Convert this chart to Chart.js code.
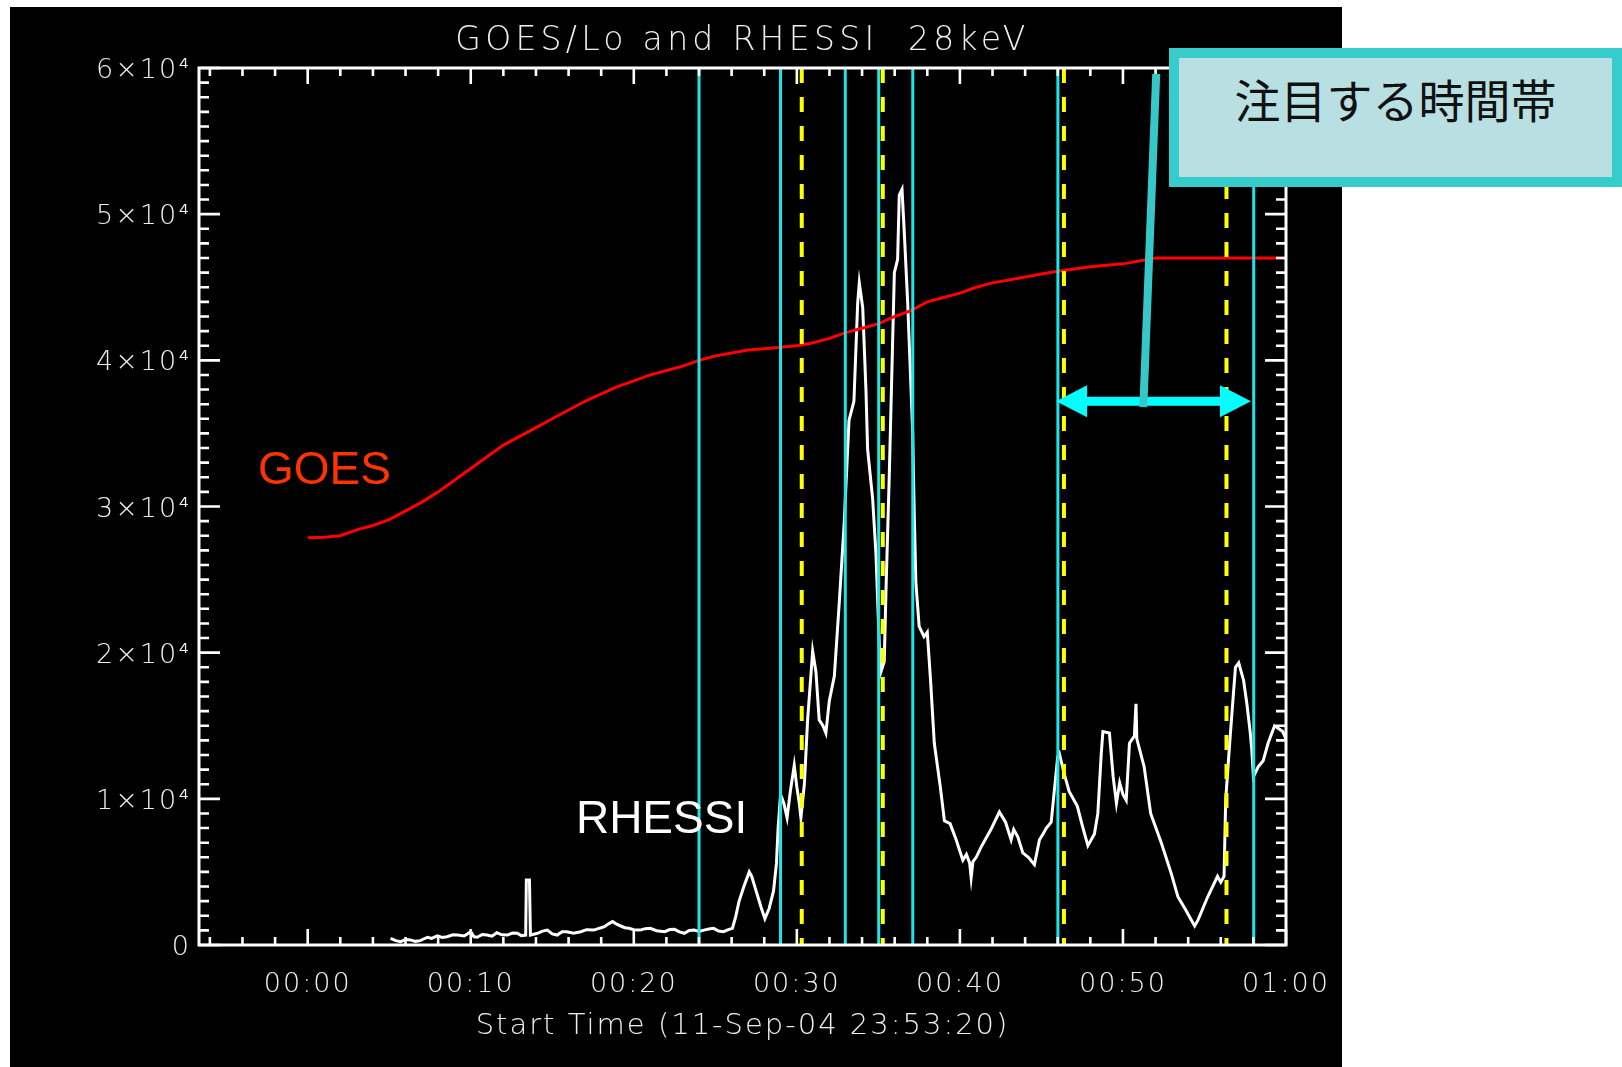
<!DOCTYPE html>
<html>
<head>
<meta charset="utf-8">
<title>GOES/Lo and RHESSI 28keV</title>
<script src="https://cdn.jsdelivr.net/npm/chart.js@4.4.1/dist/chart.umd.min.js"></script>
<style>
  html, body { margin: 0; padding: 0; background: #fff; }
  #wrap { position: relative; width: 1622px; height: 1067px; overflow: hidden; }
  #chart { position: absolute; left: 0; top: 0; }
  .callout {
    position: absolute; left: 1169px; top: 48px; width: 453px; height: 139px;
    box-sizing: border-box; border: 10px solid #36cccc; background: #b8e0e2;
  }
  .callout span {
    position: absolute; left: 0; right: 0; top: 17px; text-align: center;
    font-family: "Noto Sans CJK JP"; font-size: 46px; line-height: 1; color: #111;
  }
</style>
</head>
<body>
<div id="wrap">
  <canvas id="chart" width="1622" height="1067"></canvas>
  <div class="callout"><span>注目する時間帯</span></div>
</div>
<script>
// time in minutes after 00:00 (plot starts 23:53:20)
const rhessiTime = [
  5.08, 5.4, 5.7, 6.0, 6.3, 6.6, 6.9, 7.35, 7.6, 7.95, 8.25, 8.55, 8.9, 9.2, 9.6, 10.0, 10.2,
  10.4, 10.7, 11.0, 11.3, 11.6, 11.9, 12.25, 12.55, 12.85, 13.1, 13.37, 13.41, 13.6, 13.66,
  14.1, 14.4, 14.7, 15.0, 15.3, 15.6, 15.9, 16.3, 16.75, 17.1, 17.55, 17.9, 18.2, 18.45, 18.7,
  18.95, 19.2, 19.45, 19.7, 20.0, 20.4, 20.7, 21.0, 21.4, 21.9, 22.2, 22.5, 22.8, 23.1, 23.4,
  23.7, 24.0, 24.3, 24.6, 24.9, 25.2, 25.5, 25.8, 26.05, 26.25, 26.45, 26.75, 27.08,
  27.23, 27.5, 27.8, 28.04, 28.3, 28.57, 28.75, 28.85, 29.0, 29.2, 29.4, 29.6, 29.84, 30.0,
  30.15, 30.25, 30.46, 30.66, 30.97, 31.17, 31.37, 31.6, 31.78, 31.99, 32.3, 32.6, 32.9,
  33.2, 33.5, 33.73, 33.83, 34.04, 34.24, 34.34, 34.65, 34.85, 35.06, 35.16, 35.36, 35.47,
  35.67, 35.98, 36.18, 36.28, 36.45, 36.6, 36.8, 37.1, 37.2, 37.3, 37.5, 37.8, 38.0, 38.2,
  38.43, 38.8, 39.05, 39.4, 39.77, 40.18, 40.4, 40.6, 40.69, 40.8, 41.0, 41.3, 41.6, 41.9,
  42.42, 42.8, 43.14, 43.3, 43.55, 43.86, 44.2, 44.57, 44.88, 45.1, 45.3, 45.6, 46.0, 46.1,
  46.4, 46.7, 47.2, 47.5, 47.85, 48.25, 48.46, 48.67, 48.77, 49.17, 49.4, 49.6, 49.8, 50.0,
  50.2, 50.4, 50.7, 50.8, 50.85, 51.3, 51.7, 52.35, 52.96, 53.37, 53.8, 54.2, 54.4, 54.6,
  55.2, 55.8, 56.0, 56.2, 56.3, 56.5, 56.7, 56.9, 57.1, 57.4, 57.6, 57.8, 57.9, 58.0, 58.3,
  58.6, 58.9, 59.3, 59.8, 60.0
];
const rhessiCounts = [
  460, 300, 230, 380, 350, 250, 300, 530, 450, 620, 520, 570, 700, 680, 620, 910, 560,
  530, 720, 680, 600, 840, 700, 680, 820, 800, 640, 680, 4450, 4450, 680,
  800, 950, 1020, 760, 680, 900, 910, 800, 910, 1050, 1020, 1150, 1250, 1450, 1600,
  1420, 1300, 1180, 1140, 1050, 1020, 1120, 1140, 980, 910, 1060, 1070, 900, 800, 1000,
  1020, 930, 1020, 1100, 1140, 960, 910, 1050, 1140, 1940, 2970, 4000, 5000,
  4700, 3700, 2600, 1800, 2500, 3700, 5600, 8000, 10300, 9700, 8700, 10500, 12300, 10800,
  9700, 8700, 11000, 15400, 20100, 18700, 15400, 15000, 14500, 16700, 18400, 23400, 28800,
  35900, 37200, 43900, 45300, 43600, 37900, 33900, 30500, 26800, 20400, 18700, 19400, 24400,
  32200, 46000, 46900, 51300, 51700, 48500, 43900, 35200, 29500, 24800, 21800, 21100, 21400, 18100,
  13800, 10800, 8500, 8300, 7200, 5800, 6200, 5600, 4600, 5700, 6000, 6700, 7300, 7900,
  9100, 8400, 7200, 7900, 7400, 6300, 6000, 5500, 7200, 7600, 8000, 8400, 12900, 13100,
  11700, 10500, 9500, 8200, 6800, 7600, 9000, 13100, 14600, 14500, 11500, 9700, 11100, 10300,
  9900, 13800, 14300, 16500, 14100, 12200, 9000, 7000, 4900, 3300, 2500, 1700, 1300, 1700,
  3300, 4700, 4300, 4700, 9900, 13100, 16100, 19000, 19300, 18100, 16500, 14600, 13400, 11500, 12200,
  12600, 13800, 15000, 14600, 14100
];
const goesTime = [
  0, 1, 2, 3, 4, 5, 6, 7, 8, 9, 10, 11, 12, 13, 14, 15, 16, 17, 18, 19, 20, 21, 22, 23, 24,
  25, 26, 27, 28, 29, 30, 31, 32, 33, 34, 35, 36, 37, 38, 39, 40, 41, 42, 43, 44, 45, 46,
  47, 48, 49, 50, 51, 52, 60
];
const goesFlux = [
  27860, 27900, 28000, 28400, 28700, 29100, 29700, 30300, 31000, 31800, 32600, 33400, 34200,
  34800, 35400, 36000, 36600, 37200, 37700, 38200, 38600, 39000, 39300, 39600, 40000,
  40300, 40500, 40700, 40800, 40900, 41000, 41200, 41500, 41900, 42200, 42500, 43000, 43400,
  44000, 44300, 44600, 45000, 45300, 45500, 45700, 45900, 46100, 46250, 46400, 46500, 46600,
  46800, 47000, 47000
];
const cyanMarks = [24.0, 29.0, 32.97, 35.02, 37.11, 46.01, 58.02];
const yellowMarks = [30.3, 35.27, 46.38, 56.35];

const xMajorTicks = [0, 10, 20, 30, 40, 50, 60];
const xTickLabels = ['00:00', '00:10', '00:20', '00:30', '00:40', '00:50', '01:00'];
const yMajorTicks = [0, 10000, 20000, 30000, 40000, 50000, 60000];
const yTickLabels = ['0', '1×10⁴', '2×10⁴', '3×10⁴', '4×10⁴', '5×10⁴', '6×10⁴'];

// annotation anchors (data coordinates)
const goesLabelAt = [-3.05, 32400];
const rhessiLabelAt = [16.45, 8550];
const arrowSpan = [45.9, 57.85];
const arrowLevel = 37200;
const pointerFrom = [52.04, 59600];
const pointerTo = [51.25, 36800];

const labelFont = { family: 'DejaVu Sans', size: 27, weight: '200' };

function xy(ts, vs) {
  return ts.map((t, i) => ({ x: t, y: vs[i] }));
}

const datasets = [
  {
    label: 'RHESSI', data: xy(rhessiTime, rhessiCounts),
    borderColor: '#ffffff', borderWidth: 3, pointRadius: 0, order: 4
  },
  {
    label: 'GOES', data: xy(goesTime, goesFlux),
    borderColor: '#ff0000', borderWidth: 3, pointRadius: 0, order: 3
  }
];
cyanMarks.forEach(t => datasets.push({
  data: [{ x: t, y: 60000 }, { x: t, y: 0 }],
  borderColor: '#1ee4ea', borderWidth: 3, pointRadius: 0, order: 2
}));
yellowMarks.forEach(t => datasets.push({
  data: [{ x: t, y: 60000 }, { x: t, y: 0 }],
  borderColor: '#ffff00', borderWidth: 4, borderDash: [15, 14], pointRadius: 0, order: 1
}));

const panelPlugin = {
  id: 'panel',
  beforeDraw(chart) {
    const ctx = chart.ctx;
    ctx.save();
    ctx.fillStyle = '#fff';
    ctx.fillRect(0, 0, chart.width, chart.height);
    ctx.fillStyle = '#000';
    ctx.fillRect(10, 7, 1332, 1060);
    ctx.restore();
    ctx.letterSpacing = '2px';
  },
  afterLayout(chart) {
    // the IDL title font is wide: space the title letters out a bit more
    const tb = chart.titleBlock;
    if (tb && !tb._spaced) {
      const draw = tb.draw.bind(tb);
      tb.draw = (area) => {
        chart.ctx.save();
        chart.ctx.letterSpacing = '4.3px';
        draw(area);
        chart.ctx.restore();
      };
      tb._spaced = true;
    }
  }
};

const framePlugin = {
  id: 'frame',
  afterDatasetsDraw(chart) {
    const { ctx, chartArea: a, scales: { x, y } } = chart;
    ctx.save();
    ctx.strokeStyle = '#fff';
    ctx.lineWidth = 3;
    ctx.strokeRect(a.left, a.top, a.right - a.left, a.bottom - a.top);
    ctx.lineWidth = 2.6;
    ctx.beginPath();
    for (let m = -6; m <= 60; m += 2) {
      const px = x.getPixelForValue(m);
      const len = xMajorTicks.includes(m) ? 16 : 8;
      ctx.moveTo(px, a.bottom); ctx.lineTo(px, a.bottom - len);
      ctx.moveTo(px, a.top); ctx.lineTo(px, a.top + len);
    }
    for (let v = 0; v <= 60000; v += 1000) {
      const py = y.getPixelForValue(v);
      const len = yMajorTicks.includes(v) ? 21 : 10;
      ctx.moveTo(a.left, py); ctx.lineTo(a.left + len, py);
      ctx.moveTo(a.right, py); ctx.lineTo(a.right - len, py);
    }
    ctx.stroke();
    ctx.restore();
  },
  afterDraw(chart) {
    const { ctx, scales: { x, y } } = chart;
    ctx.save();
    ctx.letterSpacing = '0px';
    ctx.textBaseline = 'middle';
    ctx.textAlign = 'left';
    ctx.font = '46px "Liberation Sans"';
    ctx.fillStyle = '#ff3300';
    ctx.fillText('GOES', x.getPixelForValue(goesLabelAt[0]), y.getPixelForValue(goesLabelAt[1]));
    ctx.fillStyle = '#ffffff';
    ctx.fillText('RHESSI', x.getPixelForValue(rhessiLabelAt[0]), y.getPixelForValue(rhessiLabelAt[1]));

    // double-headed arrow
    const xl = x.getPixelForValue(arrowSpan[0]);
    const xr = x.getPixelForValue(arrowSpan[1]);
    const ya = y.getPixelForValue(arrowLevel);
    ctx.fillStyle = '#00ffff';
    ctx.fillRect(xl + 20, ya - 4.5, xr - xl - 40, 9);
    ctx.beginPath();
    ctx.moveTo(xl, ya); ctx.lineTo(xl + 31, ya - 16); ctx.lineTo(xl + 31, ya + 16); ctx.closePath();
    ctx.moveTo(xr, ya); ctx.lineTo(xr - 31, ya - 16); ctx.lineTo(xr - 31, ya + 16); ctx.closePath();
    ctx.fill();

    // callout pointer
    ctx.strokeStyle = '#36c8c8';
    ctx.lineWidth = 8;
    ctx.beginPath();
    ctx.moveTo(x.getPixelForValue(pointerFrom[0]), y.getPixelForValue(pointerFrom[1]));
    ctx.lineTo(x.getPixelForValue(pointerTo[0]), y.getPixelForValue(pointerTo[1]));
    ctx.stroke();
    ctx.restore();
  }
};

new Chart(document.getElementById('chart'), {
  type: 'line',
  data: { datasets },
  options: {
    responsive: false,
    animation: false,
    layout: { padding: { left: 0, top: 0, right: 336, bottom: 0 } },
    plugins: {
      legend: { display: false },
      tooltip: { enabled: false },
      title: {
        display: true,
        fullSize: false,
        text: 'GOES/Lo and RHESSI  28keV',
        color: '#eeeeee',
        font: { family: 'DejaVu Sans', size: 33, weight: '200' },
        padding: { top: 22, bottom: 6.4 }
      }
    },
    scales: {
      x: {
        type: 'linear',
        min: -400 / 60,
        max: 60,
        afterBuildTicks: s => { s.ticks = xMajorTicks.map(v => ({ value: v })); },
        afterFit: s => { s.height = 122; },
        grid: { display: false, drawTicks: false },
        border: { display: false },
        ticks: {
          color: '#eeeeee', padding: 24, maxRotation: 0, autoSkip: false,
          font: labelFont,
          callback: (v, i) => xTickLabels[i]
        },
        title: {
          display: true,
          text: 'Start Time (11-Sep-04 23:53:20)',
          color: '#eeeeee',
          font: { family: 'DejaVu Sans', size: 29, weight: '200' },
          padding: { top: 0, bottom: 23.6 }
        }
      },
      y: {
        type: 'linear',
        min: 0,
        max: 60000,
        afterBuildTicks: s => { s.ticks = yMajorTicks.map(v => ({ value: v })); },
        afterFit: s => { s.width = 199; },
        grid: { display: false, drawTicks: false },
        border: { display: false },
        ticks: {
          color: '#eeeeee', padding: 8, autoSkip: false, labelOffset: 3,
          font: labelFont,
          callback: (v, i) => yTickLabels[i]
        }
      }
    }
  },
  plugins: [panelPlugin, framePlugin]
});
</script>
</body>
</html>
